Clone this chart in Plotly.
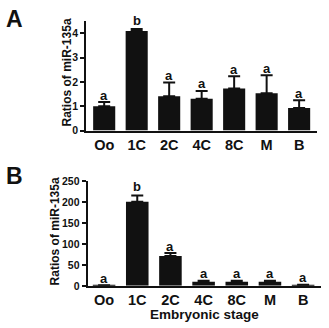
import plotly.graph_objects as go

# Embryonic stages and miR-135a ratios (mean and upper SEM) for the two panels
stages = ["Oo", "1C", "2C", "4C", "8C", "M", "B"]

a_mean = [1.0, 4.09, 1.41, 1.31, 1.73, 1.53, 0.93]
a_err = [0.17, 0.08, 0.56, 0.32, 0.50, 0.74, 0.32]
a_letters = ["a", "b", "a", "a", "a", "a", "a"]

b_mean = [1, 200, 71, 10, 10, 10, 2]
b_err = [0.5, 15, 7, 2, 2, 2, 0.5]
b_letters = ["a", "b", "a", "a", "a", "a", "a"]

FONT = "Arial, Liberation Sans, sans-serif"
INK = "#111111"
W, H = 329, 328

idx = list(range(len(stages)))

fig = go.Figure()

for mean, err, xa, ya in [(a_mean, a_err, "x", "y"), (b_mean, b_err, "x2", "y2")]:
    fig.add_trace(go.Bar(
        x=idx, y=mean, xaxis=xa, yaxis=ya,
        width=0.68,
        marker=dict(color=INK, line=dict(width=0)),
        error_y=dict(type="data", symmetric=False, array=err,
                     arrayminus=[0] * len(err),
                     color=INK, thickness=2, width=6),
        showlegend=False,
    ))

# significance letters above each error bar
ann = []
for mean, err, letters, xa, ya in [(a_mean, a_err, a_letters, "x", "y"),
                                   (b_mean, b_err, b_letters, "x2", "y2")]:
    for i, (m, e, t) in enumerate(zip(mean, err, letters)):
        ann.append(dict(x=i, y=m + e, xref=xa, yref=ya, text=t,
                        showarrow=False, xanchor="center", yanchor="middle",
                        yshift=9 if t == "b" else 7,
                        font=dict(family=FONT, size=13, color=INK, weight="bold")))

def px_x(p):
    return p / W

def px_y(p):
    return 1 - p / H

def label(x, y, text, size, angle=0):
    return dict(x=px_x(x), y=px_y(y), xref="paper", yref="paper", text=text,
                textangle=angle, showarrow=False, xanchor="center", yanchor="middle",
                borderpad=0,
                font=dict(family=FONT, size=size, color=INK, weight="bold"))

# axis titles and panel labels
ann += [
    label(67, 69, "Ratios of miR-135a", 12, -90),
    label(55, 234, "Ratios of miR-135a", 12, -90),
    label(205, 320, "Embryonic stage", 13.5),
    label(14.5, 14, "A", 23),
    label(14.5, 176, "B", 23),
]

xcommon = dict(tickmode="array", tickvals=idx, ticktext=stages, ticks="",
               showline=True, linecolor=INK, linewidth=1.8, showgrid=False,
               zeroline=False,
               tickfont=dict(family=FONT, size=14.5, color=INK, weight="bold"))
ycommon = dict(ticks="outside", ticklen=4, tickwidth=1.5, tickcolor=INK,
               showline=True, linecolor=INK, linewidth=1.8, showgrid=False,
               zeroline=False,
               tickfont=dict(family=FONT, size=10.5, color=INK, weight="bold"))

fig.update_layout(
    width=W, height=H,
    margin=dict(l=0, r=0, t=0, b=0),
    paper_bgcolor="white", plot_bgcolor="white",
    xaxis=dict(domain=[px_x(86), px_x(317)], range=[-0.56, 6.55], anchor="y", **xcommon),
    yaxis=dict(domain=[px_y(129.3), px_y(15.6)], range=[0, 4.5], dtick=1, anchor="x", **ycommon),
    xaxis2=dict(domain=[px_x(87.5), px_x(320.7)], range=[-0.5, 6.53], anchor="y2", **xcommon),
    yaxis2=dict(domain=[px_y(290.5), px_y(181.5)], range=[0, 250], dtick=50, anchor="x2", **ycommon),
    annotations=ann,
)

fig.write_html("out.html")
